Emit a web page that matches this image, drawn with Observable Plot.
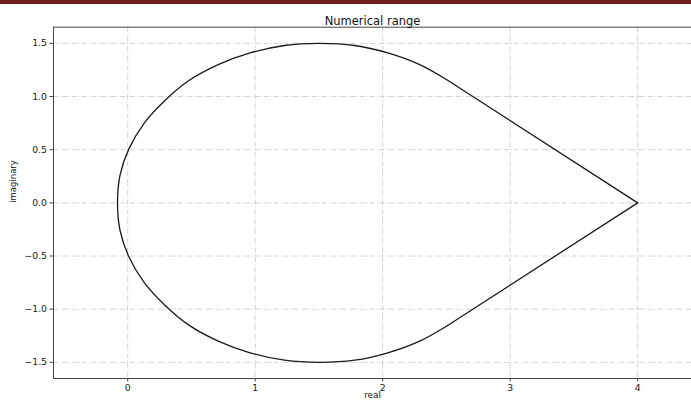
<!DOCTYPE html>
<html>
<head>
<meta charset="utf-8">
<script src="https://cdn.jsdelivr.net/npm/d3@7"></script>
<script src="https://cdn.jsdelivr.net/npm/@observablehq/plot@0.6"></script>
<style>
  html, body { margin: 0; padding: 0; background: #fff; overflow: hidden; }
  #band { position: absolute; left: 0; top: 0; width: 691px; height: 4px; background: #6b1f1f; }
  #chart { position: absolute; left: 0; top: 0; }
  #chart svg { font-family: "DejaVu Sans", sans-serif; }
</style>
</head>
<body>
<div id="chart"></div>
<div id="band"></div>
<script>
// Boundary of the numerical range: an elliptic arc on the left ...
const arcRe = [2.50, 2.29, 2.04, 1.78, 1.50, 1.23, 0.96, 0.71, 0.48, 0.29, 0.13, 0.01, -0.06, -0.08,
               -0.06, 0.01, 0.13, 0.29, 0.48, 0.71, 0.96, 1.23, 1.50, 1.78, 2.04, 2.29, 2.50];
const arcIm = [1.16, 1.30, 1.41, 1.48, 1.50, 1.48, 1.41, 1.30, 1.15, 0.96, 0.75, 0.51, 0.26, 0.00,
               -0.26, -0.51, -0.75, -0.96, -1.15, -1.30, -1.41, -1.48, -1.50, -1.48, -1.41, -1.30, -1.16];
// ... closed by two straight edges meeting at the eigenvalue 4
const edgeRe = [2.50, 4.00, 2.50];
const edgeIm = [1.16, 0.00, -1.16];

const xTicks = [0, 1, 2, 3, 4];
const yTicks = [-1.5, -1.0, -0.5, 0.0, 0.5, 1.0, 1.5];
const xDomain = [-0.582, 4.422];
const yDomain = [-1.652, 1.652];

const arc = arcRe.map((re, i) => ({re, im: arcIm[i]}));
const edge = edgeRe.map((re, i) => ({re, im: edgeIm[i]}));

const gridStyle = {stroke: "#c6c6c6", strokeWidth: 0.8, strokeOpacity: 1, strokeDasharray: "5,1.8,1,1.8"};
const spine = {stroke: "#444", strokeWidth: 1};

const chart = Plot.plot({
  width: 691,
  height: 401,
  marginTop: 26.7,
  marginBottom: 23,
  marginLeft: 53,
  marginRight: 0,
  style: {fontFamily: "DejaVu Sans, sans-serif", background: "transparent"},
  x: {domain: xDomain, label: null},
  y: {domain: yDomain, label: null},
  marks: [
    Plot.gridX(xTicks, gridStyle),
    Plot.gridY(yTicks, gridStyle),
    Plot.frame({anchor: "left", ...spine}),
    Plot.frame({anchor: "top", ...spine}),
    Plot.frame({anchor: "bottom", ...spine}),
    Plot.axisX({ticks: xTicks, tickSize: 3.5, tickPadding: 2.5, fontSize: 9.3, stroke: "#444", color: "#222", tickFormat: d3.format("d"), label: null}),
    Plot.axisY({ticks: yTicks, tickSize: 3.5, tickPadding: 3, fontSize: 9.3, stroke: "#444", color: "#222", tickFormat: d3.format(".1f"), label: null}),
    Plot.line(arc, {x: "re", y: "im", curve: "catmull-rom", stroke: "#1a1a1a", strokeWidth: 1.3}),
    Plot.line(edge, {x: "re", y: "im", stroke: "#1a1a1a", strokeWidth: 1.3}),
    Plot.text(["Numerical range"], {frameAnchor: "top", dy: -10.5, fontSize: 11.5, fill: "#111", fontFamily: "DejaVu Sans"}),
    Plot.text(["real"], {frameAnchor: "bottom", dy: 13, lineAnchor: "top", fontSize: 8.8, fill: "#111", fontFamily: "DejaVu Sans"}),
    Plot.text(["imaginary"], {frameAnchor: "left", dx: -40, rotate: -90, fontSize: 8.5, fill: "#111", fontFamily: "DejaVu Sans"})
  ]
});
document.getElementById("chart").append(chart);
</script>
</body>
</html>
